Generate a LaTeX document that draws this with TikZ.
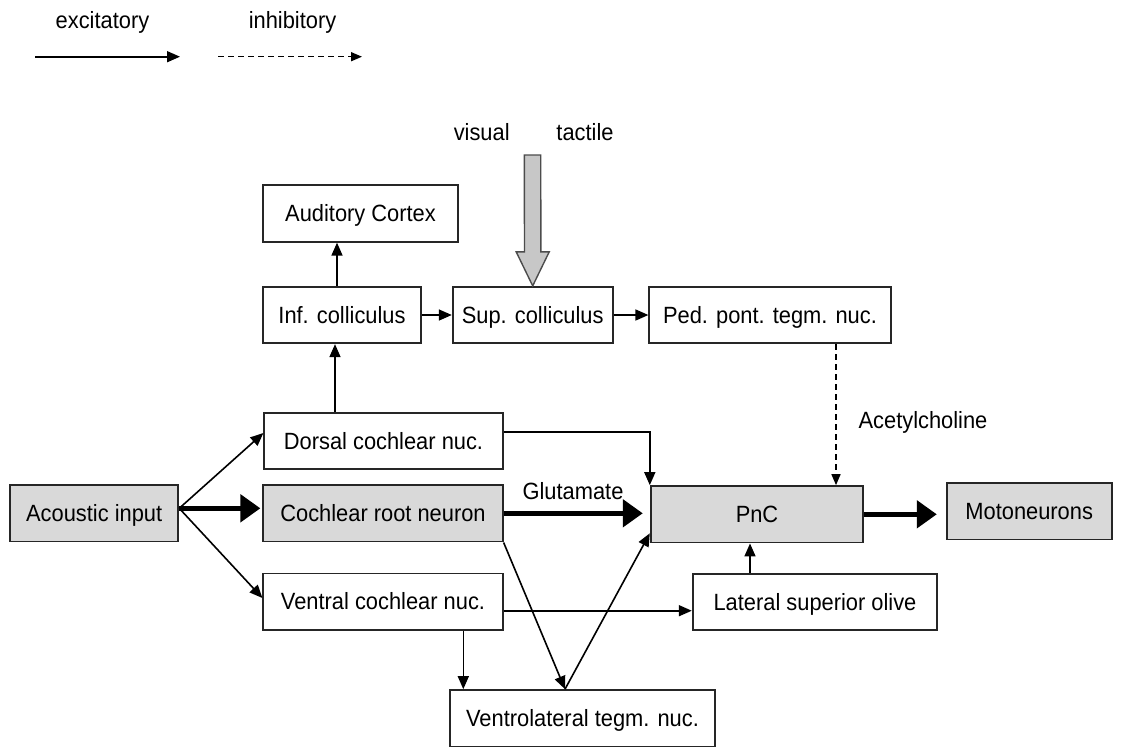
\documentclass[tikz,border=0pt]{standalone}
\usepackage{fontspec}
\setmainfont{Liberation Sans}[FakeStretch=0.93]
\usetikzlibrary{arrows.meta,calc}
\begin{document}
\begin{tikzpicture}[x=1pt,y=-1pt,
  font=\fontsize{23.5}{27}\selectfont,
  box/.style={draw=black!85,line width=1.8pt,inner sep=0pt,minimum height=56.5pt,text height=16.5pt,text depth=0pt,align=center},
  grey/.style={box,fill=black!15},
  lbl/.style={inner sep=0pt},
  arr/.style={line width=1.6pt,-{Triangle[length=13pt,width=11pt]}},
  bigarr/.style={line width=5pt,-{Triangle[length=20pt,width=27pt]}},
  inh/.style={line width=1.5pt,dash pattern=on 6pt off 4pt,-{Triangle[length=11pt,width=9pt]}}]
\path[use as bounding box,fill=white] (0,0) rectangle (1121,748);

% boxes
\node[box,minimum width=195pt] (ac) at (360.5,213.5) {Auditory Cortex};
\node[box,minimum width=158pt] (ic) at (342,315) {Inf. colliculus};
\node[box,minimum width=160pt] (sc) at (532.7,315) {Sup. colliculus};
\node[box,minimum width=241.4pt] (ppt) at (770,315) {Ped. pont. tegm. nuc.};
\node[box,minimum width=238.4pt] (dc) at (383.5,441) {Dorsal cochlear nuc.};
\node[grey,minimum width=168.3pt] (ai) at (94.2,513.3) {Acoustic input};
\node[grey,minimum width=239.4pt] (crn) at (383,513.3) {Cochlear root neuron};
\node[box,minimum width=239.4pt] (vcn) at (383,601.7) {Ventral cochlear nuc.};
\node[grey,minimum width=212.6pt] (pnc) at (757,514.3) {PnC};
\node[grey,minimum width=165pt] (mn) at (1029.2,511.3) {Motoneurons};
\node[box,minimum width=244.6pt] (lso) at (815,602) {Lateral superior olive};
\node[box,minimum width=265pt] (vtn) at (582.5,718.3) {Ventrolateral tegm. nuc.};

% labels
\node[lbl] (exc) at (102.5,22) {excitatory};
\node[lbl] (inhl) at (292.5,22) {inhibitory};
\node[lbl] (vis) at (481.7,132) {visual};
\node[lbl] (tac) at (585,132) {tactile};
\node[lbl] (ach) at (923,422) {Acetylcholine};
\node[lbl] (glu) at (573,491) {Glutamate};

% legend
\coordinate (e1) at (35,56.7);
\coordinate (e2) at (180,56.7);
\coordinate (i1) at (218,56.7);
\coordinate (i2) at (362,56.7);
\draw[arr] (e1) -- (e2);
\draw[inh] (i1) -- (i2);

% big grey arrow (visual / tactile)
\coordinate (bt) at (532.5,155);
\draw[draw=black!70,line width=1.4pt,fill=black!22,line join=miter]
  ($(bt)+(-8.2,0)$) -- ($(bt)+(8.2,0)$) -- ($(sc.north)+(8.2,-34)$) -- ($(sc.north)+(16.5,-34)$)
  -- (sc.north) -- ($(sc.north)+(-16.5,-34)$) -- ($(sc.north)+(-8.2,-34)$) -- cycle;

% connectors
\draw[arr] ([xshift=-5pt]ic.north) -- ([xshift=-5pt]ic.north |- ac.south);
\coordinate (di) at ($(ic.south)+(-7,0)$);
\draw[arr] (di |- dc.north) -- (di);
\draw[arr] (ic.east) -- (sc.west);
\draw[arr] (sc.east) -- (ppt.west);
\coordinate (pp) at ($(ppt.south)+(66,0)$);
\draw[inh] (pp) -- (pp |- pnc.north);

\coordinate (ao) at ($(ai.east)+(0,-5)$);
\draw[arr] (ao) -- ($(dc.west)+(0,-8)$);
\draw[bigarr,shorten >=2pt] (ao) -- (ao -| crn.west);
\draw[arr] (ao) -- ($(vcn.west)+(0,-3.7)$);

\draw[bigarr,shorten >=7pt] (crn.east) -- (crn.east -| pnc.west);
\draw[arr] ($(dc.east)+(0,-9)$) -| (pnc.north west);

\coordinate (vt) at ($(vtn.north)+(-17.5,0)$);
\draw[arr] (crn.south east) -- (vt);
\draw[arr] (vt) -- ($(pnc.west)+(0,19)$);
\coordinate (vc) at ($(vcn.south)+(80.3,0)$);
\draw[arr] (vc) -- (vc |- vtn.north);
\coordinate (vl) at ($(vcn.east)+(0,9)$);
\draw[arr] (vl) -- (vl -| lso.west);
\coordinate (lp) at ($(lso.north)+(-65,0)$);
\draw[arr] (lp) -- (lp |- pnc.south);
\draw[bigarr,shorten >=9pt] (pnc.east) -- (pnc.east -| mn.west);
\end{tikzpicture}
\end{document}
